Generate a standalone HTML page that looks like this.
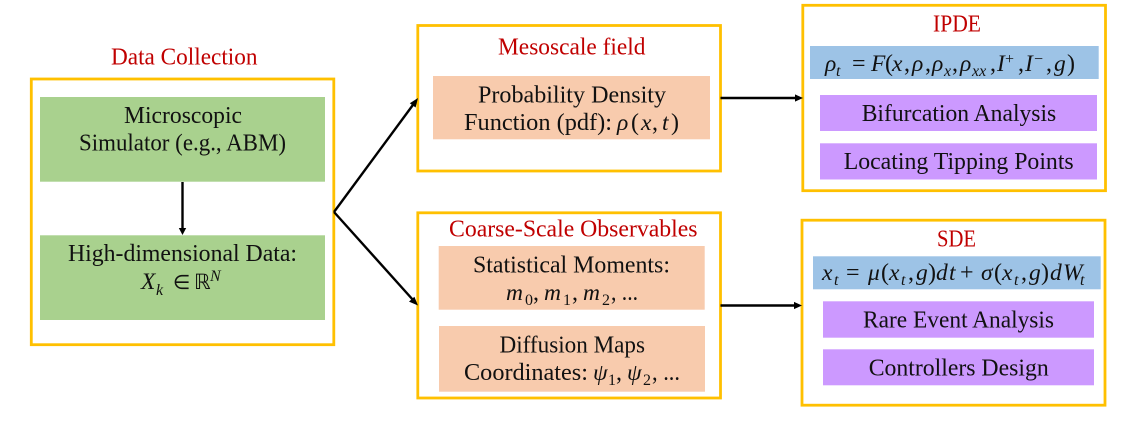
<!DOCTYPE html>
<html><head><meta charset="utf-8"><style>
html,body{margin:0;padding:0;background:#fff;width:1124px;height:429px;overflow:hidden}
svg{display:block}
text{font-family:"Liberation Serif",serif;font-size:24px;fill:#111}
.t{fill:#c00000}
.i{font-style:italic;font-size:23.5px}
.s{font-size:16px;font-style:italic}
.n{font-size:16px}
.y{fill:none;stroke:#ffc000;stroke-width:2.8}
.a{stroke:#000;stroke-width:2.4;fill:none}
</style></head><body>
<svg width="1124" height="429" viewBox="0 0 1124 429" xmlns="http://www.w3.org/2000/svg">
<rect width="1124" height="429" fill="#fff"/>
<!-- boxes -->
<rect class="y" x="31.3" y="79" width="302.5" height="265.7"/>
<rect class="y" x="417.8" y="25.5" width="302.7" height="145.5"/>
<rect class="y" x="417.8" y="212.8" width="302.7" height="185.2"/>
<rect class="y" x="802.8" y="5.3" width="302.7" height="185.4"/>
<rect class="y" x="802" y="220.2" width="303" height="185"/>
<!-- fills -->
<rect x="40" y="97" width="285" height="84.7" fill="#a9d18e"/>
<rect x="40" y="235.3" width="285" height="84.7" fill="#a9d18e"/>
<rect x="433" y="76" width="277" height="63.3" fill="#f8cbad"/>
<rect x="438.7" y="246" width="266" height="63.7" fill="#f8cbad"/>
<rect x="439" y="326" width="266" height="65.7" fill="#f8cbad"/>
<rect x="810" y="46" width="288.7" height="33" fill="#9dc3e6"/>
<rect x="813" y="256.3" width="287.7" height="33" fill="#9dc3e6"/>
<rect x="820" y="95" width="277" height="36" fill="#cc99ff"/>
<rect x="820" y="143.3" width="277" height="36.2" fill="#cc99ff"/>
<rect x="823" y="301.3" width="271" height="36.4" fill="#cc99ff"/>
<rect x="823" y="349.3" width="271" height="36" fill="#cc99ff"/>
<!-- arrows -->
<path class="a" d="M182.5 182V229"/><path d="M178.8 228H186.2L182.5 235Z"/>
<path class="a" d="M334 212L414 103.5"/><path d="M418 98L415.6 107.5L409.8 103.2Z"/>
<path class="a" d="M334 212L413.5 300.5"/><path d="M418 305.5L409 301.6L414.4 296.8Z"/>
<path class="a" d="M720.5 98H797"/><path d="M803 98L795 94.4V101.6Z"/>
<path class="a" d="M720.5 305.5H796"/><path d="M802 305.5L794 301.9V309.1Z"/>
<!-- titles -->
<text class="t" x="111" y="64.5" textLength="146.5" lengthAdjust="spacingAndGlyphs">Data Collection</text>
<text class="t" x="498" y="54.5" textLength="147.5" lengthAdjust="spacingAndGlyphs">Mesoscale field</text>
<text class="t" x="449" y="236.7" textLength="248.5" lengthAdjust="spacingAndGlyphs">Coarse-Scale Observables</text>
<text class="t" x="933" y="31.7" textLength="48" lengthAdjust="spacingAndGlyphs">IPDE</text>
<text class="t" x="937" y="246.7" textLength="39" lengthAdjust="spacingAndGlyphs">SDE</text>
<!-- green -->
<text x="124" y="123" textLength="118" lengthAdjust="spacingAndGlyphs">Microscopic</text>
<text x="79" y="150.6" textLength="207" lengthAdjust="spacingAndGlyphs">Simulator (e.g., ABM)</text>
<text x="68" y="261" textLength="229" lengthAdjust="spacingAndGlyphs">High-dimensional Data:</text>
<text class="i" x="141" y="289">X</text><text class="s" x="156" y="295">k</text>
<text x="173" y="289" style="font-family:'DejaVu Sans',sans-serif;font-size:20px">∈</text>
<text x="194" y="289" style="font-family:'DejaVu Sans',sans-serif;font-size:21px">ℝ</text>
<text class="s" x="210" y="281">N</text>
<!-- peach -->
<text x="478" y="102.5" textLength="188" lengthAdjust="spacingAndGlyphs">Probability Density</text>
<text x="464" y="130" textLength="148" lengthAdjust="spacingAndGlyphs">Function (pdf):</text>
<text class="i" x="617" y="130">ρ</text><text x="631" y="130">(</text><text class="i" x="641" y="130">x</text><text x="652" y="130">,</text><text class="i" x="662" y="130">t</text><text x="671" y="130">)</text>
<text x="473" y="272.7" textLength="197" lengthAdjust="spacingAndGlyphs">Statistical Moments:</text>
<text class="i" x="506" y="300">m</text><text class="n" x="525" y="305">0</text><text x="533" y="300">,</text>
<text class="i" x="544" y="300">m</text><text class="n" x="563" y="305">1</text><text x="572" y="300">,</text>
<text class="i" x="583" y="300">m</text><text class="n" x="602" y="305">2</text><text x="611" y="300" textLength="27" lengthAdjust="spacingAndGlyphs">, ...</text>
<text x="499.5" y="352.7" textLength="145.5" lengthAdjust="spacingAndGlyphs">Diffusion Maps</text>
<text x="464" y="380" textLength="124" lengthAdjust="spacingAndGlyphs">Coordinates:</text>
<text class="i" x="593" y="380">ψ</text><text class="n" x="608" y="385">1</text><text x="616" y="380">,</text>
<text class="i" x="627" y="380">ψ</text><text class="n" x="643" y="385">2</text><text x="652" y="380" textLength="28" lengthAdjust="spacingAndGlyphs">, ...</text>
<!-- IPDE formula -->
<text class="i" x="825" y="71">ρ</text><text class="s" x="836" y="76">t</text><text x="852" y="71">=</text>
<text class="i" x="871" y="71">F</text><text x="885" y="71">(</text><text class="i" x="892" y="71">x</text><text x="904" y="71">,</text>
<text class="i" x="912" y="71">ρ</text><text x="925" y="71">,</text>
<text class="i" x="932" y="71">ρ</text><text class="s" x="944" y="76">x</text><text x="952" y="71">,</text>
<text class="i" x="960" y="71">ρ</text><text class="s" x="972" y="76">xx</text><text x="990" y="71">,</text>
<text class="i" x="997" y="71">I</text><text class="n" x="1005" y="64">+</text><text x="1018" y="71">,</text>
<text class="i" x="1025" y="71">I</text><text class="n" x="1034" y="64">−</text><text x="1046" y="71">,</text>
<text class="i" x="1054" y="71">g</text><text x="1067" y="71">)</text>
<!-- SDE formula -->
<text class="i" x="822" y="280">x</text><text class="s" x="834" y="285">t</text><text x="846" y="280">=</text>
<text class="i" x="868" y="280">μ</text><text x="881" y="280">(</text><text class="i" x="889" y="280">x</text><text class="s" x="901" y="285">t</text><text x="908" y="280">,</text>
<text class="i" x="916" y="280">g</text><text x="928" y="280">)</text><text class="i" x="936" y="280">d</text><text class="i" x="949" y="280">t</text>
<text x="960" y="280">+</text>
<text class="i" x="981" y="280">σ</text><text x="994" y="280">(</text><text class="i" x="1002" y="280">x</text><text class="s" x="1014" y="285">t</text><text x="1021" y="280">,</text>
<text class="i" x="1029" y="280">g</text><text x="1041" y="280">)</text><text class="i" x="1050" y="280">d</text><text class="i" x="1063" y="280">W</text><text class="s" x="1080" y="285">t</text>
<!-- purple -->
<text x="861.7" y="121" textLength="194.5" lengthAdjust="spacingAndGlyphs">Bifurcation Analysis</text>
<text x="843.7" y="169" textLength="230" lengthAdjust="spacingAndGlyphs">Locating Tipping Points</text>
<text x="863" y="327.7" textLength="191" lengthAdjust="spacingAndGlyphs">Rare Event Analysis</text>
<text x="868.7" y="375.7" textLength="180" lengthAdjust="spacingAndGlyphs">Controllers Design</text>
</svg>
</body></html>
